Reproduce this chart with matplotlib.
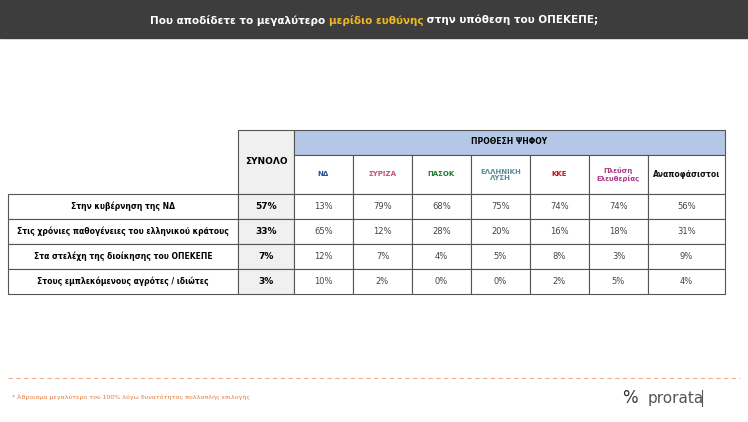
import matplotlib.pyplot as plt
from matplotlib.patches import Rectangle

rows = ["Στην κυβέρνηση της ΝΔ",
        "Στις χρόνιες παθογένειες του ελληνικού κράτους",
        "Στα στελέχη της διοίκησης του ΟΠΕΚΕΠΕ",
        "Στους εμπλεκόμενους αγρότες / ιδιώτες"]
total = [57, 33, 7, 3]
parties = ["ΝΔ", "ΣΥΡΙΖΑ", "ΠΑΣΟΚ", "ΕΛΛΗΝΙΚΗ\nΛΥΣΗ", "ΚΚΕ", "Πλεύση\nΕλευθερίας", "Αναποφάσιστοι"]
party_colors = ["#1f4fa0", "#c0507a", "#1a7a2e", "#5a8a9a", "#e2001a", "#b03a8a", "#111111"]
values = [
    [13, 79, 68, 75, 74, 74, 56],
    [65, 12, 28, 20, 16, 18, 31],
    [12, 7, 4, 5, 8, 3, 9],
    [10, 2, 0, 0, 2, 5, 4],
]
title_parts = ["Που αποδίδετε το μεγαλύτερο ", "μερίδιο ευθύνης", " στην υπόθεση του ΟΠΕΚΕΠΕ;"]
title_colors = ["white", "#f2b820", "white"]

fig = plt.figure(figsize=(7.48, 4.22), dpi=100)
ax = fig.add_axes([0, 0, 1, 1])
ax.set_xlim(0, 748)
ax.set_ylim(422, 0)
ax.axis("off")

# title bar, pieces placed one after another using measured widths
ax.add_patch(Rectangle((0, 0), 748, 38, color="#3d3d3d"))
renderer = fig.canvas.get_renderer()
pieces = [ax.text(0, 20, s, color=c, fontsize=7.5, fontweight="bold", va="center", ha="left")
          for s, c in zip(title_parts, title_colors)]
widths = [p.get_window_extent(renderer).width for p in pieces]
x = 374 - sum(widths) / 2
for p, w in zip(pieces, widths):
    p.set_x(x)
    x += w

line = "#555555"
lab_x0, lab_x1 = 8, 238
tot_x1 = 294
col_w = [59, 59, 59, 59, 59, 59, 77]
top, band_b, head_b = 130, 155, 194
row_h = 25
edges = [tot_x1]
for w in col_w:
    edges.append(edges[-1] + w)

# header
ax.add_patch(Rectangle((lab_x1, top), tot_x1 - lab_x1, head_b - top, fc="#f0f0f0", ec=line, lw=0.8))
ax.text((lab_x1 + tot_x1) / 2, 162, "ΣΥΝΟΛΟ", fontsize=6.5, fontweight="bold", ha="center", va="center")
ax.add_patch(Rectangle((tot_x1, top), edges[-1] - tot_x1, band_b - top, fc="#b4c7e7", ec=line, lw=0.8))
ax.text((tot_x1 + edges[-1]) / 2, 142, "ΠΡΟΘΕΣΗ ΨΗΦΟΥ", fontsize=5.5, fontweight="bold", ha="center", va="center")
for i, p in enumerate(parties):
    ax.add_patch(Rectangle((edges[i], band_b), col_w[i], head_b - band_b, fc="white", ec=line, lw=0.8))
    last = i == len(parties) - 1
    ax.text(edges[i] + col_w[i] / 2, (band_b + head_b) / 2, p, color=party_colors[i],
            fontsize=5.5 if last else 5, fontweight="bold", ha="center", va="center", linespacing=1.0)

# data rows
for r, label in enumerate(rows):
    y = head_b + r * row_h
    ax.add_patch(Rectangle((lab_x0, y), lab_x1 - lab_x0, row_h, fc="white", ec=line, lw=0.8))
    ax.text((lab_x0 + lab_x1) / 2, y + row_h / 2, label, fontsize=5.5, fontweight="bold", ha="center", va="center")
    ax.add_patch(Rectangle((lab_x1, y), tot_x1 - lab_x1, row_h, fc="#f0f0f0", ec=line, lw=0.8))
    ax.text((lab_x1 + tot_x1) / 2, y + row_h / 2, f"{total[r]}%", fontsize=6.5, fontweight="bold", ha="center", va="center")
    for i, v in enumerate(values[r]):
        ax.add_patch(Rectangle((edges[i], y), col_w[i], row_h, fc="white", ec=line, lw=0.8))
        ax.text(edges[i] + col_w[i] / 2, y + row_h / 2, f"{v}%", fontsize=6, color="#444444", ha="center", va="center")

# footer
ax.plot([8, 740], [378, 378], color="#f0b090", lw=0.8, ls=(0, (4, 3)))
ax.text(12, 397, "* Άθροισμα μεγαλύτερο του 100% λόγω δυνατότητας πολλαπλής επιλογής",
        fontsize=4.5, color="#e07a40", va="center")
ax.text(622, 398, "%", fontsize=12, color="#333333", va="center", ha="left")
ax.text(648, 398, "prorata", fontsize=11, color="#555555", va="center", ha="left")
ax.plot([702, 702], [390, 406], color="#555555", lw=0.8)

fig.savefig("out.png", dpi=100)
